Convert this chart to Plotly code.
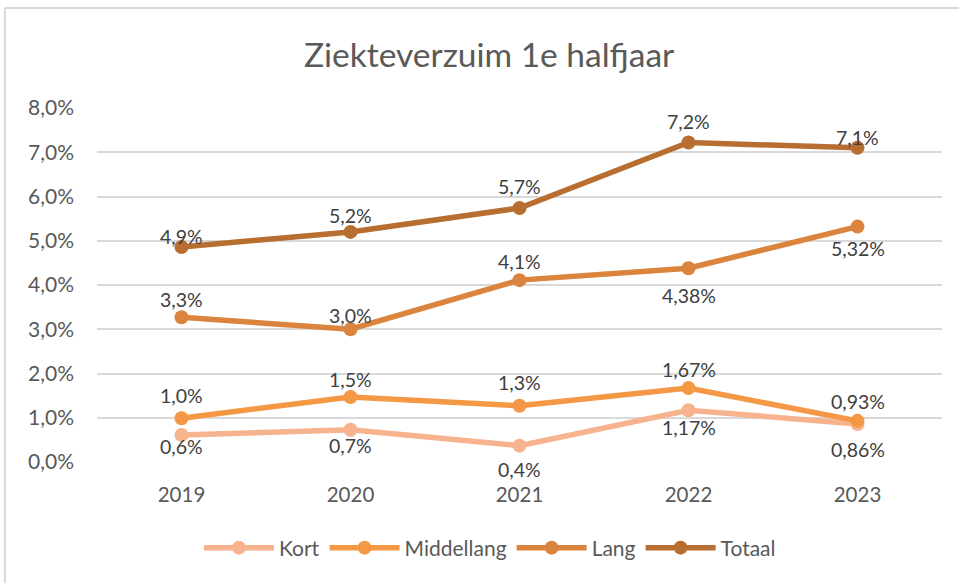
import plotly.graph_objects as go

years = ["2019", "2020", "2021", "2022", "2023"]
kort = [0.61, 0.73, 0.37, 1.17, 0.86]
middellang = [0.99, 1.47, 1.27, 1.67, 0.93]
lang = [3.27, 3.00, 4.11, 4.38, 5.32]
totaal = [4.86, 5.20, 5.74, 7.22, 7.10]

kort_labels = ["0,6%", "0,7%", "0,4%", "1,17%", "0,86%"]
middellang_labels = ["1,0%", "1,5%", "1,3%", "1,67%", "0,93%"]
lang_labels = ["3,3%", "3,0%", "4,1%", "4,38%", "5,32%"]
totaal_labels = ["4,9%", "5,2%", "5,7%", "7,2%", "7,1%"]

y_ticks = [0, 1, 2, 3, 4, 5, 6, 7, 8]
y_tick_labels = ["0,0%", "1,0%", "2,0%", "3,0%", "4,0%", "5,0%", "6,0%", "7,0%", "8,0%"]

FONT = "Lato"
series = [
    ("Kort", kort, kort_labels, "#F7B28E", [-11, -16, -24, -17, -26]),
    ("Middellang", middellang, middellang_labels, "#F59846", [23, 17, 23, 19, 19]),
    ("Lang", lang, lang_labels, "#DB843E", [18, 14, 19, -27, -22]),
    ("Totaal", totaal, totaal_labels, "#B86E31", [10, 16, 22, 21, 10]),
]

fig = go.Figure()
for name, vals, labels, color, shifts in series:
    fig.add_trace(go.Scatter(
        x=years, y=vals, name=name, mode="lines+markers",
        line=dict(color=color, width=5.5),
        marker=dict(color=color, size=14),
        hoverinfo="skip",
    ))
    for i, (yv, lab, sh) in enumerate(zip(vals, labels, shifts)):
        fig.add_annotation(x=i, y=yv, xref="x", yref="y", text=lab,
                           showarrow=False, yshift=sh,
                           font=dict(family=FONT, size=19.5, color="#404040"))

# chart frame (left and top edges visible in the picture)
fig.add_shape(type="line", xref="paper", yref="paper",
              x0=-0.109, x1=-0.109, y0=-0.6, y1=1.2825,
              line=dict(color="#D9D9D9", width=2), layer="below")
fig.add_shape(type="line", xref="paper", yref="paper",
              x0=-0.109, x1=1.2, y0=1.2825, y1=1.2825,
              line=dict(color="#D9D9D9", width=2), layer="below")

fig.update_layout(
    width=959, height=583,
    margin=dict(l=97, r=17, t=108, b=121),
    paper_bgcolor="white", plot_bgcolor="white",
    title=dict(text="Ziekteverzuim 1e halfjaar", x=0.51, xanchor="center",
               y=0.905, yanchor="middle",
               font=dict(family=FONT, size=33.5, color="#595959")),
    font=dict(family=FONT, size=20, color="#595959"),
    showlegend=True,
    legend=dict(orientation="h", x=0.465, xanchor="center", y=-0.243, yanchor="middle",
                font=dict(family=FONT, size=21, color="#595959"),
                itemwidth=70, traceorder="normal"),
)
fig.update_xaxes(type="category", range=[-0.5, 4.5], showgrid=False,
                 showline=False, ticks="", ticklabelstandoff=18,
                 tickfont=dict(family=FONT, size=20.5, color="#595959"))
fig.update_yaxes(range=[0, 8], tickvals=y_ticks, ticktext=y_tick_labels,
                 showgrid=True, gridcolor="#D9D9D9", gridwidth=1.5,
                 zeroline=False, showline=False, ticks="", ticklabelstandoff=22,
                 tickfont=dict(family=FONT, size=21, color="#595959"))

fig.write_html("out.html", config={"displayModeBar": False},
               post_script="document.body.style.margin='0';document.body.style.overflow='hidden';")
